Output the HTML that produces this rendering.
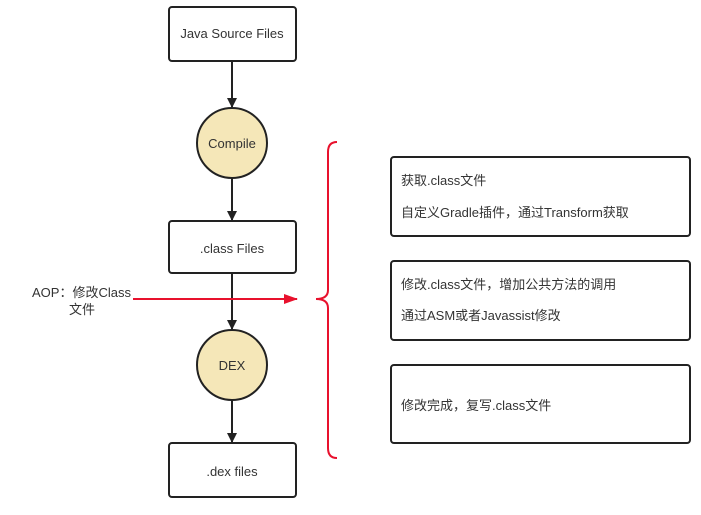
<!DOCTYPE html>
<html><head><meta charset="utf-8"><style>
html,body{margin:0;padding:0;background:#fff;width:701px;height:515px;overflow:hidden}
text{font-family:"Liberation Sans","Noto Sans CJK SC",sans-serif;font-size:13px;fill:#333}
</style></head><body>
<svg width="701" height="515" viewBox="0 0 701 515" xmlns="http://www.w3.org/2000/svg">
<defs>
<marker id="ab" markerWidth="10" markerHeight="10" refX="9" refY="5" orient="auto" markerUnits="userSpaceOnUse"><path d="M0,0 L10,5 L0,10 z" fill="#222"/></marker>
<marker id="ar" markerWidth="14" markerHeight="10" refX="13" refY="5" orient="auto" markerUnits="userSpaceOnUse"><path d="M0,0 L14,5 L0,10 z" fill="#e8112d"/></marker>
</defs>
<g stroke="#222" stroke-width="2" fill="#fff">
<rect x="169" y="7" width="127" height="54" rx="3"/>
<rect x="169" y="221" width="127" height="52" rx="3"/>
<rect x="169" y="443" width="127" height="54" rx="3"/>
<circle cx="232" cy="143" r="35" fill="#f5e7b8"/>
<circle cx="232" cy="365" r="35" fill="#f5e7b8"/>
<rect x="391" y="157" width="299" height="79" rx="3"/>
<rect x="391" y="261" width="299" height="79" rx="3"/>
<rect x="391" y="365" width="299" height="78" rx="3"/>
<line x1="232" y1="61" x2="232" y2="107" marker-end="url(#ab)"/>
<line x1="232" y1="178" x2="232" y2="220" marker-end="url(#ab)"/>
<line x1="232" y1="273" x2="232" y2="329" marker-end="url(#ab)"/>
<line x1="232" y1="400" x2="232" y2="442" marker-end="url(#ab)"/>
</g>
<line x1="133" y1="299" x2="297" y2="299" stroke="#e8112d" stroke-width="2" marker-end="url(#ar)"/>
<path d="M337,142 Q328,142 328,152 L328,290 Q328,299 316,299 Q328,299 328,308 L328,448 Q328,458 337,458" fill="none" stroke="#e8112d" stroke-width="2"/>
<text x="232" y="38" text-anchor="middle">Java Source Files</text>
<text x="232" y="148" text-anchor="middle">Compile</text>
<text x="232" y="253" text-anchor="middle">.class Files</text>
<text x="232" y="370" text-anchor="middle">DEX</text>
<text x="232" y="476" text-anchor="middle">.dex files</text>
<text x="32" y="297">AOP：修改Class</text>
<text x="69" y="314">文件</text>
<text x="401" y="185">获取.class文件</text>
<text x="401" y="217">自定义Gradle插件，通过Transform获取</text>
<text x="401" y="289">修改.class文件，增加公共方法的调用</text>
<text x="401" y="320">通过ASM或者Javassist修改</text>
<text x="401" y="410">修改完成，复写.class文件</text>
</svg>
</body></html>
